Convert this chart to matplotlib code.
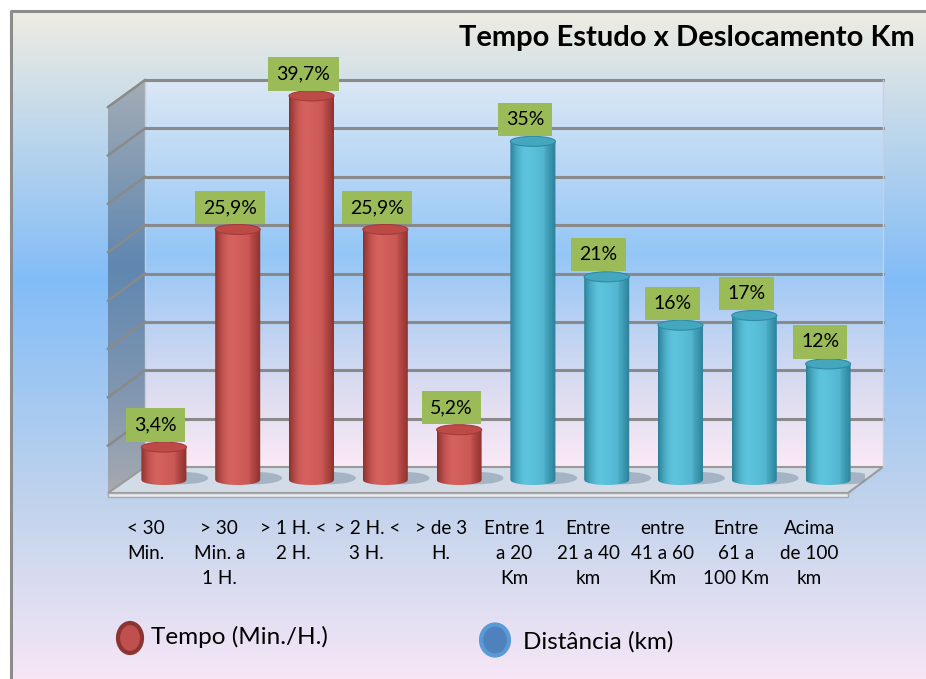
import numpy as np
import matplotlib
matplotlib.use("Agg")
import matplotlib.pyplot as plt
from matplotlib.patches import Polygon, Ellipse, Rectangle
from matplotlib.colors import LinearSegmentedColormap, to_rgb
import matplotlib.transforms as mtransforms

plt.rcParams['font.family'] = ['Lato', 'DejaVu Sans']

# ---------------- data ----------------
categories = ["< 30\nMin.", "> 30\nMin. a\n1 H.", "> 1 H. <\n2 H.", "> 2 H. <\n3 H.", "> de 3\nH.",
              "Entre 1\na 20\nKm", "Entre\n21 a 40\nkm", "entre\n41 a 60\nKm", "Entre\n61 a\n100 Km",
              "Acima\nde 100\nkm"]
values_tempo = [3.4, 25.9, 39.7, 25.9, 5.2]
values_dist = [35, 21, 16, 17, 12]
labels_tempo = ["3,4%", "25,9%", "39,7%", "25,9%", "5,2%"]
labels_dist = ["35%", "21%", "16%", "17%", "12%"]
y_ticks = [0, 5, 10, 15, 20, 25, 30, 35, 40]
title = "Tempo Estudo x Deslocamento Km"
legend_names = ["Tempo (Min./H.)", "Distância (km)"]

W, H = 926, 679
fig = plt.figure(figsize=(W / 100, H / 100), dpi=100)


def fig_rect(left, top, right, bottom):
    return [left / W, 1 - bottom / H, (right - left) / W, (bottom - top) / H]


def vgrad(stops, n=256):
    cm = LinearSegmentedColormap.from_list("g", stops)
    return cm(np.linspace(0, 1, n))[:, None, :3]


# ---------------- background axes (pixel coords) ----------------
bg = fig.add_axes([0, 0, 1, 1])
bg.set_xlim(0, W)
bg.set_ylim(H, 0)
bg.axis('off')
bg.add_patch(Rectangle((0, 0), W, H, fc='white', ec='none', zorder=0))
bg_stops = [(0, '#eeece2'), (0.40, '#82bcf7'), (0.75, '#c3d4ec'), (1.0, '#f6e6f6')]
bg.imshow(vgrad(bg_stops), extent=[12, W, H, 12], aspect='auto', zorder=1, interpolation='bilinear')
bg.plot([11, 11, W], [H, 11, 11], color='#8c8c8c', lw=2.2, zorder=2, solid_capstyle='butt')

# back wall
wall_stops = [(0, '#dbe7f5'), (0.45, '#94c6f6'), (0.8, '#dcdcf0'), (1.0, '#fbe9f6')]
bg.imshow(vgrad(wall_stops), extent=[145, 883, 467, 80], aspect='auto', zorder=2, interpolation='bilinear')

# side wall
side = Polygon([(145, 80), (145, 467), (108, 493), (108, 107)], closed=True, fc='none', ec='none')
bg.add_patch(side)
side_stops = [(0, '#a3acb6'), (0.45, '#5f87b0'), (0.75, '#8096b0'), (1.0, '#a6a9b0')]
im = bg.imshow(vgrad(side_stops), extent=[108, 145, 493, 80], aspect='auto', zorder=2, interpolation='bilinear')
im.set_clip_path(side)
bg.plot([145, 145], [80, 467], color='#c9cfd6', lw=1, zorder=3)

# floor
floor = Polygon([(145, 467), (883, 467), (848, 493), (108, 493)], closed=True,
                fc='#d3dce6', ec='#9a9a9a', lw=1.5, zorder=3)
bg.add_patch(floor)
bg.add_patch(Polygon([(108, 493), (848, 493), (848, 497), (108, 497)], closed=True,
                     fc='#e6eaef', ec='#a8a8a8', lw=1, zorder=3))

# side wall grid lines
for t in y_ticks[1:]:
    yb = 467 - t * 387 / 40
    bg.plot([108, 145], [yb + 27, yb], color='#8a8a8a', lw=1.8, zorder=3)

# ---------------- wall axes (grid lines) ----------------
axw = fig.add_axes(fig_rect(145, 80, 883, 467))
axw.set_xlim(-0.5, 9.5)
axw.set_ylim(0, 40)
axw.axis('off')
for t in y_ticks[1:]:
    axw.axhline(t, color='#8a8a8a', lw=2.2, clip_on=False)
axw.axvline(9.5, color='#c8d0da', lw=1, clip_on=False)

# ---------------- bar axes ----------------
px_per_unit = 387 / 40
y_lo, y_hi = -3, 42
axb = fig.add_axes(fig_rect(127, 480 - y_hi * px_per_unit, 865, 480 - y_lo * px_per_unit))
axb.patch.set_alpha(0)
axb.axis('off')

w = 0.61
e = 5.0 / px_per_unit


def hgrad(dark, base, light, n=120):
    xs = np.linspace(0, 1, n)
    dark, base, light = map(np.array, map(to_rgb, (dark, base, light)))
    out = np.zeros((1, n, 3))
    for i, t in enumerate(xs):
        if t < 0.38:
            s = t / 0.38
            c = dark * (1 - s) ** 2 + light * (1 - (1 - s) ** 2)
        else:
            s = (t - 0.38) / 0.62
            c = light * (1 - s) + base * s if s < 0.6 else base * (1 - (s - 0.6) / 0.4) + dark * ((s - 0.6) / 0.4)
        out[0, i] = c
    return out


def cylinder(ax, x, v, dark, base, light, top_c, edge_c):
    ax.add_patch(Ellipse((x + 0.22, 0.2), w * 1.25, 1.3, fc='#7f94aa', ec='none', alpha=0.55, zorder=1))
    xs = np.linspace(-1, 1, 60)
    verts = [(x + xx * w / 2, -e * np.sqrt(max(0, 1 - xx ** 2))) for xx in xs]
    verts += [(x + w / 2, v), (x - w / 2, v)]
    clip = Polygon(verts, closed=True, fc='none', ec='none')
    ax.add_patch(clip)
    img = ax.imshow(hgrad(dark, base, light), extent=[x - w / 2, x + w / 2, -e, v],
                    aspect='auto', zorder=2, interpolation='bilinear')
    img.set_clip_path(clip)
    ax.add_patch(Ellipse((x, v), w, 2 * e, fc=top_c, ec=edge_c, lw=0.8, zorder=3))


def label(ax, x, v, txt):
    ax.annotate(txt, (x, v), xytext=(-8, 22), textcoords='offset pixels', ha='center', va='center',
                fontsize=14, color='black', zorder=5,
                bbox=dict(boxstyle='square,pad=0.42', fc='#9bbb59', ec='none'))


n_t = len(values_tempo)
for i, v in enumerate(values_tempo):
    cylinder(axb, i, v, '#8c302d', '#c0504d', '#d6625e', '#bd4a47', '#a33c39')
    label(axb, i, v, labels_tempo[i])
for j, v in enumerate(values_dist):
    i = n_t + j
    cylinder(axb, i, v, '#2a7f97', '#4bacc6', '#5ec4de', '#45a6c0', '#2f8ba4')
    label(axb, i, v, labels_dist[j])

axb.set_xlim(-0.5, 9.5)
axb.set_ylim(y_lo, y_hi)

# category labels
tr = mtransforms.blended_transform_factory(axb.transData, bg.transData)
for i, c in enumerate(categories):
    bg.text(i - 0.25, 520, c, transform=tr, ha='center', va='top', fontsize=13.6,
            linespacing=1.58, color='black', zorder=6)

# title
bg.text(915, 38, title, ha='right', va='center', fontsize=21, fontweight='bold', color='black', zorder=6)

# legend
bg.add_patch(Ellipse((130, 638), 24, 30, fc='#c0504d', ec='#8b3432', lw=3, zorder=6))
bg.text(151, 637, legend_names[0], ha='left', va='center', fontsize=17.5, color='black', zorder=6)
bg.add_patch(Ellipse((495, 640), 28, 31, fc='#4f81bd', ec='#5b9bd5', lw=3, zorder=6))
bg.text(523, 642, legend_names[1], ha='left', va='center', fontsize=17.5, color='black', zorder=6)

fig.savefig("out.png", dpi=100)
